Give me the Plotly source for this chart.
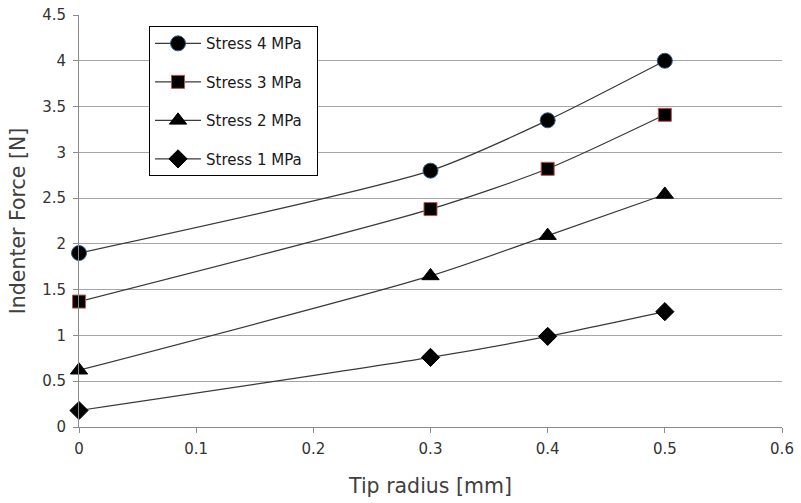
import plotly.graph_objects as go

tip_radius = [0, 0.3, 0.4, 0.5]
stress4 = [1.90, 2.80, 3.35, 4.00]
stress3 = [1.37, 2.38, 2.82, 3.41]
stress2 = [0.62, 1.65, 2.09, 2.54]
stress1 = [0.18, 0.76, 0.99, 1.26]

series = [
    ("Stress 4 MPa", stress4, "circle", 15, "#2f5f8f"),
    ("Stress 3 MPa", stress3, "square", 13, "#c0504d"),
    ("Stress 2 MPa", stress2, "triangle-up", 15, "black"),
    ("Stress 1 MPa", stress1, "diamond", 14, "black"),
]

fig = go.Figure()
for i, (name, vals, sym, sz, edge) in enumerate(series):
    fig.add_trace(go.Scatter(
        x=tip_radius, y=vals, name=name + "\u00a0\u00a0", mode="lines+markers",
        legendgroup=f"g{i}", cliponaxis=False,
        line=dict(color="#3a3a3a", width=1.2, shape="spline", smoothing=0.7),
        marker=dict(symbol=sym, size=sz, color="black",
                    line=dict(color=edge, width=1)),
    ))

fig.update_layout(
    width=801, height=503,
    margin=dict(l=79, r=19, t=15, b=76),
    paper_bgcolor="white", plot_bgcolor="white",
    font=dict(family="DejaVu Sans", color="#404040"),
    showlegend=True,
    legend=dict(
        x=0.0996, y=0.973, xanchor="left", yanchor="top",
        bgcolor="white", bordercolor="black", borderwidth=1,
        font=dict(size=15, color="#1a1a1a"),
        tracegroupgap=16, traceorder="grouped", itemwidth=46,
    ),
    xaxis=dict(
        range=[0, 0.6], dtick=0.1, tick0=0,
        showgrid=False, zeroline=False, automargin=False,
        showline=True, linecolor="#8a8a8a", linewidth=1,
        ticks="outside", ticklen=5, tickcolor="#8a8a8a", ticklabelstandoff=3,
        ticklabeloverflow="allow",
        tickfont=dict(size=15, color="#333333"),
        title=dict(text="Tip radius [mm]", font=dict(size=20.5, color="#404040"), standoff=21),
    ),
    yaxis=dict(
        range=[0, 4.5], dtick=0.5, tick0=0,
        showgrid=True, gridcolor="#a6a6a6", gridwidth=1,
        zeroline=False, automargin=False,
        showline=True, linecolor="#8a8a8a", linewidth=1,
        ticks="outside", ticklen=5, tickcolor="#8a8a8a", ticklabelstandoff=4,
        ticklabeloverflow="allow",
        tickfont=dict(size=15, color="#333333"),
        title=dict(text="Indenter Force [N]", font=dict(size=20.5, color="#404040"), standoff=10),
    ),
)

fig.write_html("out.html", config={"displayModeBar": False},
               post_script="document.body.style.margin='0';")
